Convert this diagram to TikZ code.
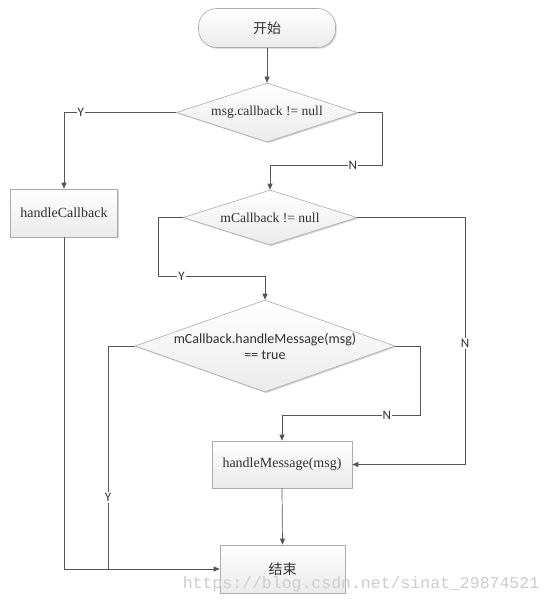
\documentclass[tikz,border=0pt]{standalone}
\usepackage{fontspec}
\setmainfont{Liberation Serif}
\newfontfamily\calfont{Carlito}
\newfontfamily\cjkfont{Noto Sans CJK SC}
\newfontfamily\wmfont{Liberation Mono}
\usetikzlibrary{shapes.geometric,arrows.meta,shadows}
\definecolor{linec}{HTML}{555555}
\definecolor{textc}{HTML}{303030}
\tikzset{
  boxbase/.style={draw=gray!65, line width=0.6pt, top color=white, bottom color=gray!16,
    drop shadow={shadow xshift=1.2pt, shadow yshift=-1.2pt, fill=gray!45, opacity=0.8},
    text=textc, inner sep=0pt},
  procbox/.style={boxbase, rectangle, font=\fontsize{14}{16}\selectfont},
  startbox/.style={boxbase, rectangle, rounded corners=18pt, font=\cjkfont\fontsize{14}{16}\selectfont},
  decbox/.style={boxbase, diamond},
  dectext/.style={text=textc, align=center, font=\fontsize{13.6}{16}\selectfont},
  dectextsans/.style={text=textc, align=center, font=\calfont\fontsize{14}{16}\selectfont},
  conn/.style={draw=linec, line width=0.7pt, -{Triangle[length=6pt,width=5pt]}},
  plain/.style={draw=linec, line width=0.7pt},
  yn/.style={fill=white, inner sep=1pt, text=textc, font=\calfont\fontsize{13}{14}\selectfont},
}
\begin{document}
\begin{tikzpicture}[x=1pt,y=-1pt]
\useasboundingbox[fill=white] (0,0) rectangle (553,603);

\node[startbox, minimum width=137pt, minimum height=39pt] (start) at (267,28) {开始};
\node[decbox, minimum width=181pt, minimum height=59pt,
  label={[dectext]center:msg.callback != null}] (d1) at (267,112.5) {};
\node[procbox, minimum width=107pt, minimum height=48pt] (hc) at (64,213) {handleCallback};
\node[decbox, minimum width=174pt, minimum height=55pt,
  label={[dectext]center:mCallback != null}] (d2) at (270,217.5) {};
\node[decbox, minimum width=260pt, minimum height=92pt,
  label={[dectextsans]center:mCallback.handleMessage(msg)\\== true}] (d3) at (265,346) {};
\node[procbox, minimum width=140pt, minimum height=47pt] (hm) at (282,464.5) {handleMessage(msg)};
\node[procbox, minimum width=125pt, minimum height=48pt, font=\cjkfont\fontsize{14}{16}\selectfont] (end) at (282.5,569) {结束};

\coordinate (c1) at (64,112.5);
\coordinate (c2) at (382,112.5);
\coordinate (c3) at (382,165);
\coordinate (c4) at (270,165);
\coordinate (c5) at (158,217.5);
\coordinate (c6) at (158,276);
\coordinate (c7) at (265,276);
\coordinate (c8) at (465,217.5);
\coordinate (c9) at (465,464.5);
\coordinate (c10) at (420,346);
\coordinate (c11) at (420,415);
\coordinate (c12) at (282,415);
\coordinate (c13) at (108,346);
\coordinate (c14) at (108,569);
\coordinate (c15) at (64,569);

\draw[conn] (start) -- (d1);
\draw[conn] (d1.west) -- node[yn, pos=0.85] {Y} (c1) -- (hc.north);
\draw[conn] (d1.east) -- (c2) -- (c3) -- node[yn, pos=0.26] {N} (c4) -- (d2.north);
\draw[conn] (d2.west) -- (c5) -- (c6) -- node[yn, pos=0.22] {Y} (c7) -- (d3.north);
\draw[conn] (d2.east) -- (c8) -- node[yn, pos=0.51] {N} (c9) -- (hm.east);
\draw[conn] (d3.east) -- (c10) -- (c11) -- node[yn, pos=0.24] {N} (c12) -- (hm.north);
\draw[plain] (d3.west) -- (c13) -- node[yn, pos=0.68] {Y} (c14);
\draw[conn] (hc.south) -- (c15) -- (end.west);
\draw[conn] (hm.south) -- (end.north);

\node[text=gray!40, font=\wmfont\fontsize{16.5}{18}\selectfont, inner sep=0pt] (wm) at (361,584) {https://blog.csdn.net/sinat\_29874521};
\end{tikzpicture}
\end{document}
